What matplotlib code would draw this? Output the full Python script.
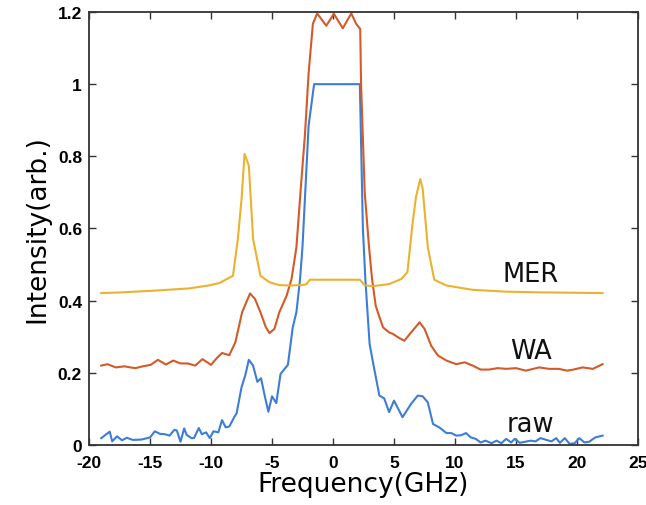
import numpy as np
import matplotlib
matplotlib.use("Agg")
import matplotlib.pyplot as plt
from matplotlib.ticker import FuncFormatter

plt.rcParams["axes.unicode_minus"] = False

# raw spectrum (blue)
raw_x = [-19.0, -18.3, -18.1, -17.7, -17.3, -16.9, -16.4, -15.7, -15.0, -14.6,
         -14.2, -13.8, -13.4, -13.0, -12.8, -12.5, -12.2, -12.0, -11.6, -11.4,
         -11.0, -10.75, -10.4, -10.1, -9.8, -9.4, -9.1, -8.8, -8.5, -8.1,
         -7.9, -7.5, -7.2, -6.9, -6.55, -6.2, -5.9, -5.6, -5.3, -5.0,
         -4.65, -4.3, -3.7, -3.3, -3.0, -2.7, -2.5, -2.0, -1.55, 2.2,
         2.45, 2.65, 3.0, 3.3, 3.8, 4.2, 4.6, 5.0, 5.7, 6.4,
         6.95, 7.35, 7.77, 8.2, 8.7, 9.3, 9.7, 10.1, 10.5, 10.9,
         11.3, 11.7, 12.1, 12.5, 13.0, 13.4, 13.8, 14.2, 14.6, 14.9,
         15.3, 15.9, 16.2, 16.6, 17.0, 17.4, 17.9, 18.3, 18.6, 19.0,
         19.4, 19.8, 20.2, 20.6, 21.0, 21.5, 22.1]
raw_y = [0.019, 0.037, 0.010, 0.024, 0.013, 0.020, 0.014, 0.015, 0.021, 0.038,
         0.031, 0.030, 0.026, 0.042, 0.040, 0.009, 0.046, 0.028, 0.019, 0.019,
         0.047, 0.030, 0.035, 0.019, 0.038, 0.035, 0.069, 0.049, 0.051, 0.077,
         0.088, 0.160, 0.192, 0.236, 0.220, 0.175, 0.185, 0.137, 0.092, 0.135,
         0.116, 0.197, 0.222, 0.326, 0.368, 0.460, 0.550, 0.885, 1.0, 1.0,
         0.60, 0.46, 0.28, 0.225, 0.137, 0.129, 0.091, 0.123, 0.077, 0.114,
         0.137, 0.135, 0.118, 0.058, 0.049, 0.033, 0.033, 0.026, 0.027, 0.033,
         0.021, 0.017, 0.007, 0.012, 0.005, 0.012, 0.005, 0.017, 0.007, 0.017,
         0.006, 0.010, 0.012, 0.010, 0.019, 0.015, 0.010, 0.019, 0.006, 0.019,
         0.003, 0.005, 0.019, 0.007, 0.009, 0.021, 0.026]

# weighted average (orange)
wa_x = [-19.0, -18.5, -17.8, -17.1, -16.6, -16.2, -15.6, -14.95, -14.35, -13.7,
        -13.1, -12.5, -11.9, -11.3, -10.7, -10.0, -9.6, -9.1, -8.5, -8.0,
        -7.45, -6.8, -6.4, -5.95, -5.5, -5.2, -4.8, -4.4, -3.8, -3.4,
        -3.0, -2.6, -2.3, -2.0, -1.65, -1.3, -0.55, 0.07, 0.8, 1.5,
        1.9, 2.23, 2.3, 2.6, 2.95, 3.2, 3.5, 3.75, 4.1, 4.6,
        4.9, 5.45, 5.85, 6.4, 7.1, 7.5, 8.05, 8.6, 9.3, 10.1,
        10.8, 11.45, 12.1, 12.8, 13.5, 14.2, 15.0, 15.8, 16.9, 17.7,
        18.5, 19.2, 19.7, 20.45, 21.3, 22.1]
wa_y = [0.220, 0.224, 0.215, 0.218, 0.215, 0.213, 0.218, 0.222, 0.236, 0.223,
        0.234, 0.226, 0.226, 0.220, 0.238, 0.222, 0.238, 0.255, 0.249, 0.285,
        0.368, 0.420, 0.405, 0.368, 0.326, 0.310, 0.322, 0.368, 0.414, 0.460,
        0.548, 0.730, 0.860, 1.030, 1.167, 1.196, 1.162, 1.195, 1.155, 1.196,
        1.167, 1.153, 1.0, 0.70, 0.55, 0.46, 0.386, 0.360, 0.326, 0.312,
        0.308, 0.296, 0.289, 0.312, 0.340, 0.322, 0.275, 0.248, 0.234, 0.224,
        0.229, 0.220, 0.209, 0.209, 0.213, 0.211, 0.213, 0.206, 0.215, 0.211,
        0.211, 0.206, 0.209, 0.215, 0.211, 0.224]

# MER (yellow)
mer_x = [-19.0, -17.3, -14.5, -11.8, -10.2, -9.3, -8.2, -7.8, -7.5, -7.25,
         -6.9, -6.55, -5.95, -5.2, -4.4, -3.55, -2.7, -2.2, -1.9, 2.2,
         2.6, 3.25, 4.6, 5.6, 6.1, 6.5, 6.8, 7.15, 7.35, 7.77,
         8.3, 9.3, 11.45, 14.2, 16.9, 22.1]
mer_y = [0.421, 0.423, 0.428, 0.434, 0.442, 0.449, 0.469, 0.571, 0.680, 0.807,
         0.774, 0.571, 0.469, 0.451, 0.443, 0.442, 0.443, 0.445, 0.458, 0.458,
         0.443, 0.440, 0.446, 0.460, 0.479, 0.608, 0.687, 0.737, 0.710, 0.548,
         0.458, 0.442, 0.430, 0.425, 0.423, 0.421]

labels = ["MER", "WA", "raw"]
label_x = [16.2, 16.2, 16.2]
label_y = [0.475, 0.261, 0.058]

fig = plt.figure(figsize=(6.46, 5.06), dpi=100)
ax = fig.add_axes([0.1378, 0.1186, 0.8498, 0.8557])

ax.plot(raw_x, raw_y, color="#3C7DD6", lw=1.5)
ax.plot(wa_x, wa_y, color="#D45A28", lw=1.5)
ax.plot(mer_x, mer_y, color="#EBB22F", lw=1.5)

for t, x, y in zip(labels, label_x, label_y):
    ax.text(x, y, t, fontsize=18.5, ha="center", va="center", color="#111111")

ax.set_xlim(-20, 25)
ax.set_ylim(0, 1.2)
ax.set_xticks(np.arange(-20, 26, 5))
ax.set_yticks([0, 0.2, 0.4, 0.6, 0.8, 1.0, 1.2])
ax.yaxis.set_major_formatter(FuncFormatter(lambda v, p: "%g" % v))
ax.tick_params(direction="in", top=True, right=True, length=5, width=1,
               color="#333333")
ax.tick_params(axis="x", pad=7)
ax.tick_params(axis="y", pad=5)
for lab in ax.get_xticklabels() + ax.get_yticklabels():
    lab.set_fontweight("bold")
    lab.set_family("Liberation Sans")
    lab.set_fontsize(12.5)
for s in ax.spines.values():
    s.set_color("#333333")
    s.set_linewidth(1.3)

ax.set_xlabel("Frequency(GHz)", fontsize=19, labelpad=1)
ax.set_ylabel("Intensity(arb.)", fontsize=19, labelpad=5)

fig.savefig("out.png", dpi=100)
